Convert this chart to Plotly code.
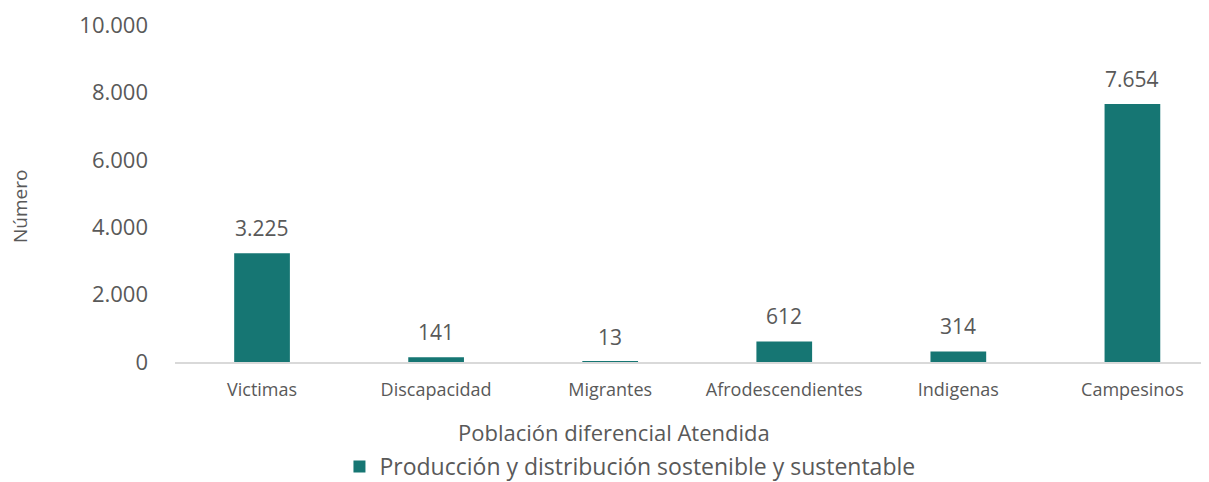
import plotly.graph_objects as go

categories = ["Victimas", "Discapacidad", "Migrantes", "Afrodescendientes", "Indigenas", "Campesinos"]
values = [3225, 141, 13, 612, 314, 7654]
series_name = "Producción y distribución sostenible y sustentable"
y_ticks = [0, 2000, 4000, 6000, 8000, 10000]
x_title = "Población diferencial Atendida"
y_title = "Número"

bar_color = "#167673"
text_color = "#595959"
font_family = "Open Sans, Noto Sans, sans-serif"

# the page body has an 8px margin, so the figure is sized to fit the window
fig = go.Figure()
fig.add_trace(
    go.Bar(
        x=categories,
        y=values,
        name=series_name,
        marker=dict(color=bar_color, line=dict(width=0)),
        width=0.32,
    )
)

# data labels sit a little above each bar
for cat, val in zip(categories, values):
    fig.add_annotation(
        x=cat,
        y=val,
        text=f"{val:,}".replace(",", "."),
        showarrow=False,
        yanchor="bottom",
        yshift=9,
        font=dict(size=21, color=text_color, family=font_family),
    )

fig.add_annotation(
    text=x_title, xref="paper", yref="paper", x=0.4246, y=0,
    yshift=-70, xanchor="center", yanchor="middle", showarrow=False,
    font=dict(size=22, color=text_color, family=font_family),
)
fig.add_annotation(
    text=y_title, xref="paper", yref="paper", x=0, y=0.46,
    xshift=-155, xanchor="center", yanchor="middle", textangle=-90,
    showarrow=False, font=dict(size=19, color=text_color, family=font_family),
)

fig.update_layout(
    width=1201,
    height=474,
    paper_bgcolor="white",
    plot_bgcolor="white",
    separators=",.",
    font=dict(family=font_family, color=text_color),
    margin=dict(l=167, r=0, t=17, b=120, autoexpand=False),
    showlegend=True,
    xaxis=dict(
        range=[-0.5, 5.44],
        tickfont=dict(size=18, color=text_color),
        showline=True,
        linecolor="#d9d9d9",
        linewidth=2,
        showgrid=False,
        ticks="",
        ticklabelstandoff=10,
        automargin=False,
    ),
    yaxis=dict(
        range=[0, 10000.5],
        tickvals=y_ticks,
        tickformat=",",
        tickfont=dict(size=22, color=text_color),
        showgrid=False,
        zeroline=False,
        showline=False,
        ticks="",
        ticklabelstandoff=26,
        ticklabeloverflow="allow",
        automargin=False,
    ),
    legend=dict(
        orientation="h",
        x=0.44,
        xanchor="center",
        y=-0.31,
        yanchor="middle",
        font=dict(size=23, color=text_color),
        itemwidth=30,
    ),
)

fig.write_html("out.html")
